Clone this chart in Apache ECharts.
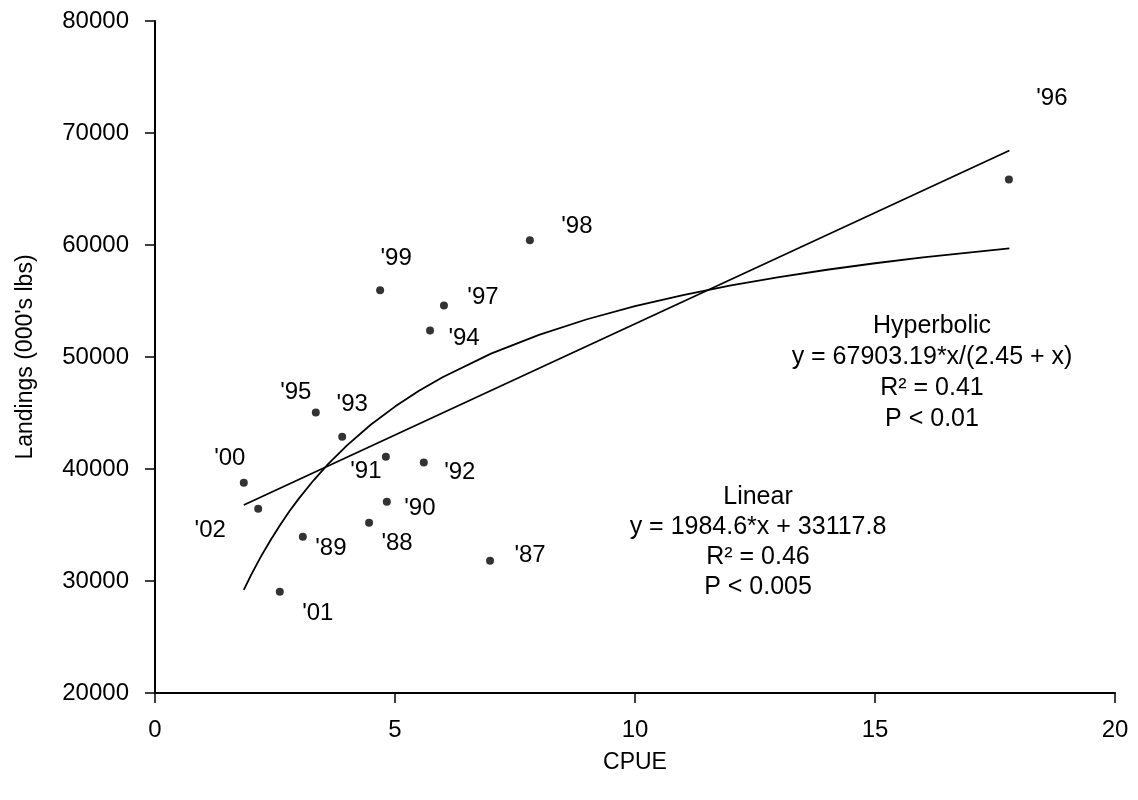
<!DOCTYPE html>
<html>
<head>
<meta charset="utf-8">
<script src="https://cdn.jsdelivr.net/npm/echarts@6/dist/echarts.min.js"></script>
<style>
html,body{margin:0;padding:0;background:#fff;}
#chart{width:1138px;height:800px;}
</style>
</head>
<body>
<div id="chart"></div>
<script>
// ---- data ----
const yearLabels = ["'87","'88","'89","'90","'91","'92","'93","'94","'95","'96","'97","'98","'99","'00","'01","'02"];
const cpue       = [6.98, 4.46, 3.08, 4.83, 4.81, 5.60, 3.90, 5.73, 3.35, 17.79, 6.02, 7.81, 4.69, 1.85, 2.60, 2.15];
const landings   = [31800, 35200, 33950, 37080, 41100, 40570, 42890, 52370, 45040, 65850, 54600, 60420, 55950, 38780, 29030, 36450];

// fitted curves
const linearX = [1.85, 17.8];
const linearY = [36790, 68440];
const hyperX  = [1.85, 2.0, 2.2, 2.4, 2.6, 2.8, 3.0, 3.3, 3.6, 4.0, 4.5, 5.0, 5.5, 6.0, 7.0, 8.0, 9.0, 10, 11, 12, 13, 14, 15, 16, 17, 17.8];
const hyperY  = [29210, 30520, 32130, 33600, 34960, 36220, 37380, 38970, 40410, 42110, 43970, 45570, 46980, 48220, 50300, 51980, 53370, 54540, 55530, 56390, 57140, 57790, 58370, 58890, 59350, 59690];

const xTicks = [0, 5, 10, 15, 20];
const yTicks = [20000, 30000, 40000, 50000, 60000, 70000, 80000];

const hyperText  = ["Hyperbolic", "y = 67903.19*x/(2.45 + x)", "R\u00b2 = 0.41", "P < 0.01"];
const linearText = ["Linear", "y = 1984.6*x + 33117.8", "R\u00b2 = 0.46", "P < 0.005"];

// ---- styling / layout (label offsets in px) ----
const labelOffsets = [[40,-5],[28,21],[28,12],[33,7],[-20,15],[36,10],[10,-32],[34,8],[-20,-20],[43,-81],[39,-8],[47,-14],[16,-32],[-14,-24],[38,22],[-48,22]];

const FONT = '"Liberation Sans", Arial, sans-serif';
const chart = echarts.init(document.getElementById('chart'));

const scatterData = cpue.map((x, i) => ({
  value: [x, landings[i]],
  label: { offset: labelOffsets[i] }
}));

chart.setOption({
  animation: false,
  backgroundColor: '#fff',
  grid: { left: 155, right: 23, top: 21, bottom: 107, containLabel: false },
  xAxis: {
    type: 'value', min: xTicks[0], max: xTicks[xTicks.length-1], interval: 5,
    name: 'CPUE', nameLocation: 'middle', nameGap: 58,
    nameTextStyle: { fontFamily: FONT, fontSize: 23, color: '#000' },
    axisLine: { onZero: false, lineStyle: { color: '#000', width: 2 } },
    axisTick: { show: true, inside: false, length: 10, lineStyle: { color: '#000', width: 1.5 } },
    axisLabel: { fontFamily: FONT, fontSize: 24, color: '#000', margin: 25 },
    splitLine: { show: false }
  },
  yAxis: {
    type: 'value', min: yTicks[0], max: yTicks[yTicks.length-1], interval: 10000,
    name: "Landings (000's lbs)", nameLocation: 'middle', nameGap: 118, nameRotate: 90,
    nameTextStyle: { fontFamily: FONT, fontSize: 23, color: '#000' },
    axisLine: { onZero: false, lineStyle: { color: '#000', width: 2 } },
    axisTick: { show: true, inside: false, length: 10, lineStyle: { color: '#000', width: 1.5 } },
    axisLabel: { fontFamily: FONT, fontSize: 24, color: '#000', margin: 26, formatter: v => String(v) },
    splitLine: { show: false }
  },
  series: [
    {
      type: 'line', data: linearX.map((x, i) => [x, linearY[i]]),
      showSymbol: false, symbol: 'none',
      lineStyle: { color: '#000', width: 1.8 }, z: 2
    },
    {
      type: 'line', data: hyperX.map((x, i) => [x, hyperY[i]]),
      showSymbol: false, symbol: 'none', smooth: false,
      lineStyle: { color: '#000', width: 1.8 }, z: 2
    },
    {
      type: 'scatter', data: scatterData, symbol: 'circle', symbolSize: 8,
      itemStyle: { color: '#000' }, z: 3,
      label: {
        show: true, position: 'inside', align: 'center', verticalAlign: 'middle',
        fontFamily: FONT, fontSize: 24, color: '#000', textBorderWidth: 0, opacity: 1,
        formatter: p => yearLabels[p.dataIndex]
      }
    }
  ],
  graphic: [
    {
      type: 'text', x: 932, y: 373,
      style: {
        text: hyperText.join('\n'), align: 'center', verticalAlign: 'middle',
        font: '25px ' + FONT, lineHeight: 31, fill: '#000'
      }
    },
    {
      type: 'text', x: 758, y: 542,
      style: {
        text: linearText.join('\n'), align: 'center', verticalAlign: 'middle',
        font: '25px ' + FONT, lineHeight: 30, fill: '#000'
      }
    }
  ]
});
</script>
</body>
</html>
